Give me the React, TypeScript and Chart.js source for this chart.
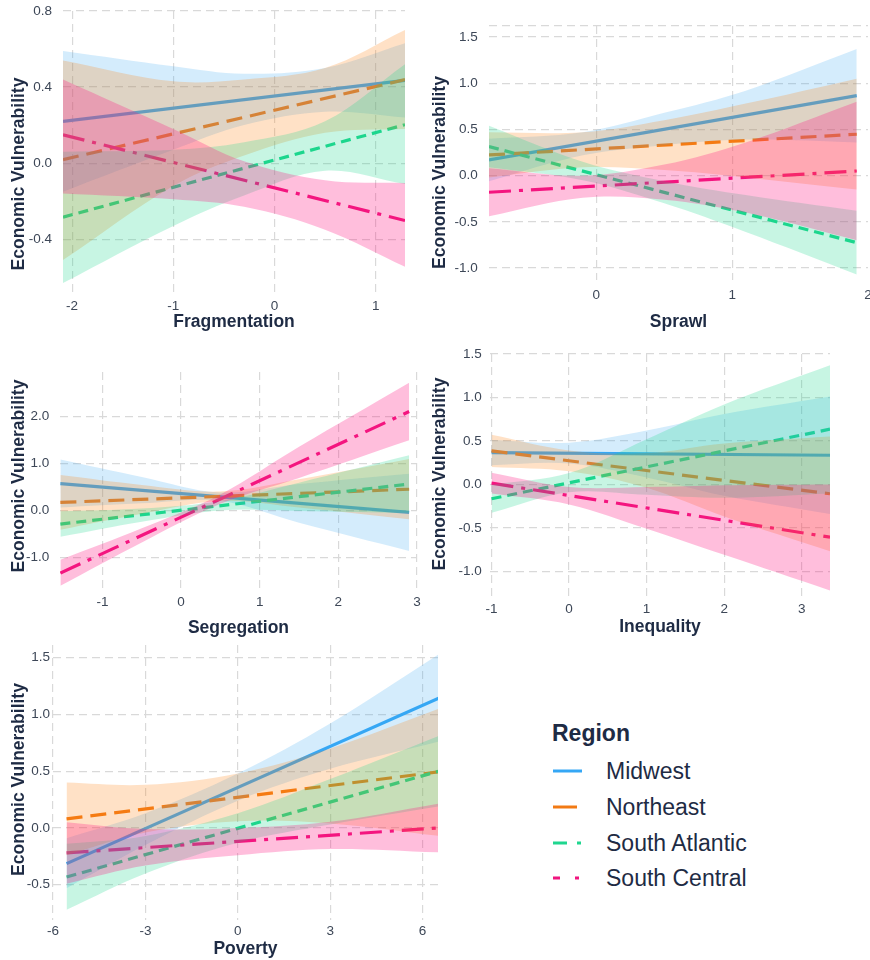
import React, { useEffect, useRef } from 'react';
import { Chart, registerables } from 'chart.js';

Chart.register(...registerables);

const FONT = "'Liberation Sans', Arial, Helvetica, sans-serif";
Chart.defaults.font.family = FONT;

// ---------- shared series info ----------
const REGIONS = ['Midwest', 'Northeast', 'South Atlantic', 'South Central'];
const LINE_COLORS = ['#35A7F5', '#F27A14', '#1FD68F', '#F0157F'];
const BAND_COLORS = [
  'rgba(60,170,240,0.22)',
  'rgba(255,127,14,0.235)',
  'rgba(20,215,140,0.24)',
  'rgba(255,20,130,0.28)',
];
const DASHES: number[][] = [[], [16, 8], [10, 6], [22, 8, 4, 8]];

// ---------- Fragmentation ----------
const FRAG_X = [-2.09, -1, -0.3, 0.5, 1.29];
const FRAG_LINE = [[0.22, 0.435], [0.018, 0.439], [-0.284, 0.202], [0.149, -0.302]];
const FRAG_UPPER = [
  [0.59, 0.51, 0.47, 0.5, 0.63],
  [0.54, 0.43, 0.44, 0.5, 0.7],
  [0.06, 0.07, 0.11, 0.22, 0.52],
  [0.44, 0.18, 0.01, -0.09, -0.105],
];
const FRAG_LOWER = [
  [-0.15, 0.07, 0.2, 0.27, 0.24],
  [-0.51, -0.12, 0.04, 0.16, 0.18],
  [-0.63, -0.33, -0.17, -0.04, -0.11],
  [-0.16, -0.19, -0.23, -0.35, -0.545],
];
const FRAG_XTICKS = [-2, -1, 0, 1];
const FRAG_YTICKS = [-0.4, 0, 0.4, 0.8];

// ---------- Sprawl ----------
const SPRAWL_X = [-0.79, -0.1, 0.5, 1.1, 1.917];
const SPRAWL_LINE = [[0.17, 0.866], [0.224, 0.448], [0.314, -0.726], [-0.18, 0.05]];
const SPRAWL_UPPER = [
  [0.4, 0.47, 0.68, 0.92, 1.37],
  [0.47, 0.47, 0.6, 0.78, 1.05],
  [0.54, 0.15, -0.06, -0.21, -0.38],
  [0.08, 0.0, 0.12, 0.36, 0.8],
];
const SPRAWL_LOWER = [
  [-0.06, 0.22, 0.33, 0.39, 0.36],
  [-0.02, 0.09, 0.06, -0.02, -0.15],
  [0.09, -0.05, -0.3, -0.61, -1.07],
  [-0.44, -0.24, -0.26, -0.4, -0.7],
];
const SPRAWL_XTICKS = [0, 1, 2];
const SPRAWL_YTICKS = [-1, -0.5, 0, 0.5, 1, 1.5];

// ---------- Segregation ----------
const SEG_X = [-1.535, -0.5, 0.5, 1.5, 2.9];
const SEG_LINE = [[0.57, -0.04], [0.17, 0.45], [-0.29, 0.56], [-1.33, 2.1]];
const SEG_UPPER = [
  [1.08, 0.71, 0.38, 0.56, 0.78],
  [0.75, 0.54, 0.4, 0.66, 1.09],
  [-0.02, 0.04, 0.2, 0.59, 1.17],
  [-1.05, -0.38, 0.34, 1.35, 2.71],
];
const SEG_LOWER = [
  [0.06, 0.15, 0.2, -0.26, -0.86],
  [-0.41, -0.07, 0.2, 0.06, -0.19],
  [-0.56, -0.24, 0.0, -0.01, -0.05],
  [-1.6, -0.68, 0.14, 0.69, 1.49],
];
const SEG_XTICKS = [-1, 0, 1, 2, 3];
const SEG_YTICKS = [-1, 0, 1, 2];

// ---------- Inequality ----------
const INEQ_X = [-1, 0, 1, 2, 3.365];
const INEQ_LINE = [[0.365, 0.335], [0.385, -0.108], [-0.165, 0.635], [0.015, -0.608]];
const INEQ_UPPER = [
  [0.51, 0.48, 0.62, 0.81, 1.01],
  [0.57, 0.39, 0.36, 0.47, 0.55],
  [-0.005, 0.13, 0.52, 0.92, 1.37],
  [0.135, -0.03, -0.03, -0.01, 0.0],
];
const INEQ_LOWER = [
  [0.22, 0.24, 0.08, -0.13, -0.34],
  [0.2, 0.15, -0.04, -0.37, -0.77],
  [-0.325, -0.09, -0.12, -0.155, -0.105],
  [-0.105, -0.23, -0.51, -0.81, -1.22],
];
const INEQ_XTICKS = [-1, 0, 1, 2, 3];
const INEQ_YTICKS = [-1, -0.5, 0, 0.5, 1, 1.5];

// ---------- Poverty ----------
const POV_X = [-5.56, -3, 0, 3, 6.53];
const POV_LINE = [[-0.314, 1.142], [0.08, 0.494], [-0.432, 0.5], [-0.219, 0.0]];
const POV_UPPER = [
  [-0.09, 0.13, 0.48, 0.92, 1.53],
  [0.4, 0.38, 0.48, 0.7, 1.05],
  [-0.14, -0.07, 0.13, 0.43, 0.81],
  [0.05, -0.01, 0.0, 0.055, 0.215],
];
const POV_LOWER = [
  [-0.53, -0.15, 0.24, 0.52, 0.76],
  [-0.24, -0.04, 0.06, 0.04, -0.07],
  [-0.72, -0.4, -0.13, 0.03, 0.19],
  [-0.49, -0.33, -0.24, -0.185, -0.215],
];
const POV_XTICKS = [-6, -3, 0, 3, 6];
const POV_YTICKS = [-0.5, 0, 0.5, 1, 1.5];

// ---------- styling ----------
const TICK_COLOR = '#3d4757';
const TITLE_COLOR = '#1e2b44';
const GRID_COLOR = '#d9d9d9';
const TICK_SIZE = 13.5;
const TITLE_SIZE = 17.5;
const Y_TITLE = 'Economic Vulnerability';

type PanelCfg = {
  name: string;
  x: number[];
  line: number[][];
  upper: number[][];
  lower: number[][];
  xTicks: number[];
  yTicks: number[];
  extraGrid: number[];
  hideXGrid: number[];
  xMin: number;
  xMax: number;
  yMin: number;
  yMax: number;
  box: [number, number, number, number]; // left, top, width, height
  area: [number, number, number, number]; // left, top, right, bottom
  yTitleAt: [number, number]; // page coords of the y title centre
  pad: { yTick: number; xTick: number; xTitle: number };
};

const PANELS: PanelCfg[] = [
  {
    name: 'Fragmentation', x: FRAG_X, line: FRAG_LINE, upper: FRAG_UPPER, lower: FRAG_LOWER,
    xTicks: FRAG_XTICKS, yTicks: FRAG_YTICKS, extraGrid: [], hideXGrid: [],
    xMin: -2.09, xMax: 1.29, yMin: -0.683, yMax: 0.8,
    box: [0, 0, 425, 335], area: [63, 11, 405, 293], yTitleAt: [19.5, 174],
    pad: { yTick: 11, xTick: 5, xTitle: 2.8 },
  },
  {
    name: 'Sprawl', x: SPRAWL_X, line: SPRAWL_LINE, upper: SPRAWL_UPPER, lower: SPRAWL_LOWER,
    xTicks: SPRAWL_XTICKS, yTicks: SPRAWL_YTICKS, extraGrid: [1.62], hideXGrid: [2],
    xMin: -0.79, xMax: 2.0, yMin: -1.13, yMax: 1.62,
    box: [425, 0, 445, 335], area: [489, 26, 868, 280], yTitleAt: [440, 172.5],
    pad: { yTick: 11.3, xTick: 7, xTitle: 2.8 },
  },
  {
    name: 'Segregation', x: SEG_X, line: SEG_LINE, upper: SEG_UPPER, lower: SEG_LOWER,
    xTicks: SEG_XTICKS, yTicks: SEG_YTICKS, extraGrid: [], hideXGrid: [],
    xMin: -1.54, xMax: 3.0, yMin: -1.754, yMax: 2.94,
    box: [0, 340, 425, 300], area: [60, 372, 417, 593], yTitleAt: [19.5, 476],
    pad: { yTick: 10.7, xTick: 1.6, xTitle: 1.2 },
  },
  {
    name: 'Inequality', x: INEQ_X, line: INEQ_LINE, upper: INEQ_UPPER, lower: INEQ_LOWER,
    xTicks: INEQ_XTICKS, yTicks: INEQ_YTICKS, extraGrid: [], hideXGrid: [],
    xMin: -1.02, xMax: 3.365, yMin: -1.33, yMax: 1.5,
    box: [425, 340, 445, 300], area: [490, 354, 830, 600], yTitleAt: [440, 474],
    pad: { yTick: 8.3, xTick: 1.2, xTitle: 2.2 },
  },
  {
    name: 'Poverty', x: POV_X, line: POV_LINE, upper: POV_UPPER, lower: POV_LOWER,
    xTicks: POV_XTICKS, yTicks: POV_YTICKS, extraGrid: [], hideXGrid: [],
    xMin: -6, xMax: 6.5, yMin: -0.81, yMax: 1.61,
    box: [0, 640, 450, 320], area: [53, 645, 438, 920], yTitleAt: [19.5, 779.5],
    pad: { yTick: 3, xTick: 3.6, xTitle: 0 },
  },
];

// draws the rotated y-axis title at a chosen point of the canvas
const yTitlePlugin = {
  id: 'yTitle',
  afterDraw(chart: any, _args: any, opts: any) {
    const { ctx } = chart;
    ctx.save();
    ctx.translate(opts.x, opts.y);
    ctx.rotate(-Math.PI / 2);
    ctx.font = `bold ${TITLE_SIZE}px ${FONT}`;
    ctx.fillStyle = TITLE_COLOR;
    ctx.textAlign = 'center';
    ctx.textBaseline = 'middle';
    ctx.fillText(opts.text, 0, 0);
    ctx.restore();
  },
};

function Panel({ cfg }: { cfg: PanelCfg }) {
  const ref = useRef<HTMLCanvasElement | null>(null);
  const [bl, bt, bw, bh] = cfg.box;
  const [al, at, ar, ab] = cfg.area;

  useEffect(() => {
    if (!ref.current) return;
    const datasets: any[] = [];
    const last = cfg.x.length - 1;
    const n = REGIONS.length;
    // lines first (drawn underneath the translucent ribbons); lower `order` is painted later
    for (let r = 0; r < n; r++) {
      datasets.push({
        label: REGIONS[r],
        data: [
          { x: cfg.x[0], y: cfg.line[r][0] },
          { x: cfg.x[last], y: cfg.line[r][1] },
        ],
        borderColor: LINE_COLORS[r],
        borderWidth: 3.2,
        borderDash: DASHES[r],
        borderCapStyle: 'butt',
        pointRadius: 0,
        fill: false,
        order: 20 + (n - r),
      });
    }
    for (let r = 0; r < n; r++) {
      datasets.push({
        label: REGIONS[r] + ' upper',
        data: cfg.x.map((x, i) => ({ x, y: cfg.upper[r][i] })),
        borderWidth: 0,
        borderColor: 'transparent',
        backgroundColor: BAND_COLORS[r],
        pointRadius: 0,
        tension: 0.35,
        fill: '+1',
        order: n - r,
      });
      datasets.push({
        label: REGIONS[r] + ' lower',
        data: cfg.x.map((x, i) => ({ x, y: cfg.lower[r][i] })),
        borderWidth: 0,
        borderColor: 'transparent',
        pointRadius: 0,
        tension: 0.35,
        fill: false,
        order: n - r,
      });
    }

    const yAxisWidth = al - bl;
    const xAxisHeight = bt + bh - ab;

    const chart = new Chart(ref.current, {
      type: 'line',
      data: { datasets },
      plugins: [yTitlePlugin],
      options: {
        responsive: false,
        animation: false,
        events: [],
        layout: {
          padding: { left: 0, top: at - bt, right: bl + bw - ar, bottom: 0 },
        },
        plugins: {
          legend: { display: false },
          tooltip: { enabled: false },
          yTitle: { x: cfg.yTitleAt[0] - bl, y: cfg.yTitleAt[1] - bt, text: Y_TITLE },
        },
        scales: {
          x: {
            type: 'linear',
            min: cfg.xMin,
            max: cfg.xMax,
            afterBuildTicks: (axis: any) => {
              axis.ticks = cfg.xTicks.map((v) => ({ value: v }));
            },
            afterFit: (s: any) => {
              s.height = xAxisHeight;
              s.paddingLeft = 0;
              s.paddingRight = 0;
            },
            ticks: {
              autoSkip: false,
              maxRotation: 0,
              padding: cfg.pad.xTick,
              color: TICK_COLOR,
              font: { size: TICK_SIZE },
              callback: (v: any) => String(v),
            },
            grid: {
              drawTicks: false,
              lineWidth: 1.2,
              color: (ctx: any) =>
                ctx.tick && cfg.hideXGrid.includes(ctx.tick.value) ? 'rgba(0,0,0,0)' : GRID_COLOR,
            },
            border: { display: false, dash: [8, 5] },
            title: {
              display: true,
              text: cfg.name,
              color: TITLE_COLOR,
              font: { size: TITLE_SIZE, weight: 'bold' },
              padding: { top: 0, bottom: cfg.pad.xTitle },
            },
          },
          y: {
            type: 'linear',
            min: cfg.yMin,
            max: cfg.yMax,
            afterBuildTicks: (axis: any) => {
              axis.ticks = [...cfg.yTicks, ...cfg.extraGrid].map((v) => ({ value: v }));
            },
            afterFit: (s: any) => {
              s.width = yAxisWidth;
              s.paddingTop = 0;
              s.paddingBottom = 0;
            },
            ticks: {
              autoSkip: false,
              padding: cfg.pad.yTick,
              color: TICK_COLOR,
              font: { size: TICK_SIZE },
              callback: (v: any) => (cfg.yTicks.includes(Number(v)) ? Number(v).toFixed(1) : ''),
            },
            grid: { drawTicks: false, lineWidth: 1.2, color: GRID_COLOR },
            border: { display: false, dash: [8, 5] },
            title: { display: false },
          },
        },
      } as any,
    });
    return () => chart.destroy();
  }, [cfg]);

  return (
    <canvas
      ref={ref}
      width={bw}
      height={bh}
      style={{ position: 'absolute', left: bl, top: bt, width: bw, height: bh }}
    />
  );
}

const LEGEND_ROWS = [770.7, 806.7, 842.7, 878.3];
const LEGEND_SAMPLE_LEN = [29, 24, 29, 29];
const LEGEND_SAMPLE_DASH = ['', '', '14 10 4 60', '7 15 4 60'];

function Legend() {
  return (
    <div style={{ fontFamily: FONT, color: TITLE_COLOR }}>
      <div
        style={{
          position: 'absolute', left: 552, top: 720, fontSize: 23, lineHeight: '26px', fontWeight: 'bold',
        }}
      >
        Region
      </div>
      {REGIONS.map((name, i) => (
        <div
          key={name}
          style={{
            position: 'absolute', left: 552, top: LEGEND_ROWS[i] - 13, height: 26,
            display: 'flex', alignItems: 'center', whiteSpace: 'nowrap',
          }}
        >
          <svg width={32} height={6} style={{ display: 'block' }}>
            <line
              x1={1}
              y1={3}
              x2={1 + LEGEND_SAMPLE_LEN[i]}
              y2={3}
              stroke={LINE_COLORS[i]}
              strokeWidth={3}
              strokeDasharray={LEGEND_SAMPLE_DASH[i] || undefined}
            />
          </svg>
          <span style={{ marginLeft: 22, fontSize: 23, lineHeight: '26px' }}>{name}</span>
        </div>
      ))}
    </div>
  );
}

export default function App() {
  return (
    <div
      style={{
        position: 'absolute', left: 0, top: 0, width: 870, height: 960,
        background: '#ffffff', overflow: 'hidden',
      }}
    >
      {PANELS.map((p) => (
        <Panel key={p.name} cfg={p} />
      ))}
      <Legend />
    </div>
  );
}
